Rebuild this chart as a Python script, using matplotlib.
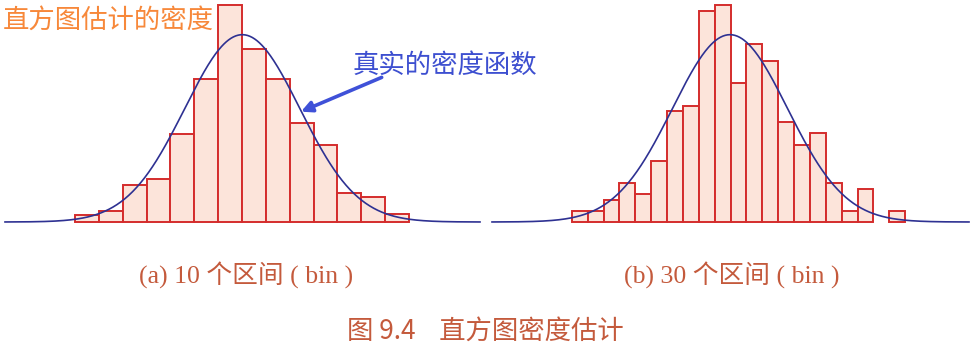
import numpy as np
import matplotlib
matplotlib.use("Agg")
import matplotlib.pyplot as plt

# left panel: histogram with wide bins (density units, x in sigma units)
left_start = -2.91
left_width = 0.415
left_heights = [0.014, 0.023, 0.078, 0.092, 0.187, 0.305, 0.462,
                0.368, 0.305, 0.211, 0.164, 0.062, 0.053, 0.016]

# right panel: histogram with narrow bins
right_start = -2.75
right_width = 0.276
right_heights = [0.023, 0.023, 0.046, 0.082, 0.059, 0.130, 0.236, 0.248,
                 0.450, 0.462, 0.296, 0.379, 0.343, 0.213, 0.165, 0.189,
                 0.082, 0.023, 0.070, 0.0, 0.023]

# true density: standard normal
mu, sigma = 0.0, 1.0

caption_a = "(a) 10 个区间 ( bin )"
caption_b = "(b) 30 个区间 ( bin )"
fig_caption = "图 9.4    直方图密度估计"
label_hist = "直方图估计的密度"
label_true = "真实的密度函数"

W, H = 975, 349
BAR_FACE = "#fce4da"
BAR_EDGE = "#d42c2c"
CURVE = "#2e3192"
CAP_COLOR = "#c45a3c"


def pdf(x):
    return np.exp(-0.5 * ((x - mu) / sigma) ** 2) / (sigma * np.sqrt(2 * np.pi))


def draw_panel(ax, start, width, heights, xlim):
    lefts = start + width * np.arange(len(heights))
    for l, h in zip(lefts, heights):
        if h <= 0:
            continue
        ax.bar(l, h, width=width, align="edge", color=BAR_FACE,
               edgecolor=BAR_EDGE, linewidth=1.4, zorder=2, clip_on=False)
    xs = np.linspace(xlim[0], xlim[1], 600)
    ax.plot(xs, pdf(xs), color=CURVE, linewidth=1.2, zorder=3, clip_on=False)
    ax.set_xlim(*xlim)
    ax.set_ylim(0, 0.4728)
    ax.axis("off")


fig = plt.figure(figsize=(W / 100, H / 100), dpi=100)
bottom = (H - 222) / H
height = 222 / H
ax1 = fig.add_axes([5 / W, bottom, 475 / W, height])
ax2 = fig.add_axes([492 / W, bottom, 477 / W, height])

draw_panel(ax1, left_start, left_width, left_heights, (-4.127, 4.134))
draw_panel(ax2, right_start, right_width, right_heights, (-4.139, 4.157))

cjk = ["Noto Sans CJK SC", "DejaVu Sans"]
serif_cjk = ["Liberation Serif", "Noto Sans CJK SC"]

fig.text(3 / W, 1 - 20 / H, label_hist, color="#f7883a", fontsize=19,
         family=cjk, ha="left", va="center")
fig.text(352 / W, 1 - 65 / H, label_true, color="#3d4fd0", fontsize=19,
         family=cjk, ha="left", va="center")

ax1.annotate("", xy=(1.021, 0.235), xytext=(2.424, 0.308),
             arrowprops=dict(arrowstyle="-|>", color="#3f51d8", lw=2.6,
                             mutation_scale=16, shrinkA=0, shrinkB=0),
             annotation_clip=False, zorder=5)

fig.text(246 / W, 1 - 275 / H, caption_a, color=CAP_COLOR, fontsize=18.5,
         family=serif_cjk, ha="center", va="center")
fig.text(732 / W, 1 - 275 / H, caption_b, color=CAP_COLOR, fontsize=18.5,
         family=serif_cjk, ha="center", va="center")
fig.text(485 / W, 1 - 331 / H, fig_caption, color=CAP_COLOR, fontsize=19,
         family=cjk, ha="center", va="center")

fig.savefig("out.png", dpi=100)
